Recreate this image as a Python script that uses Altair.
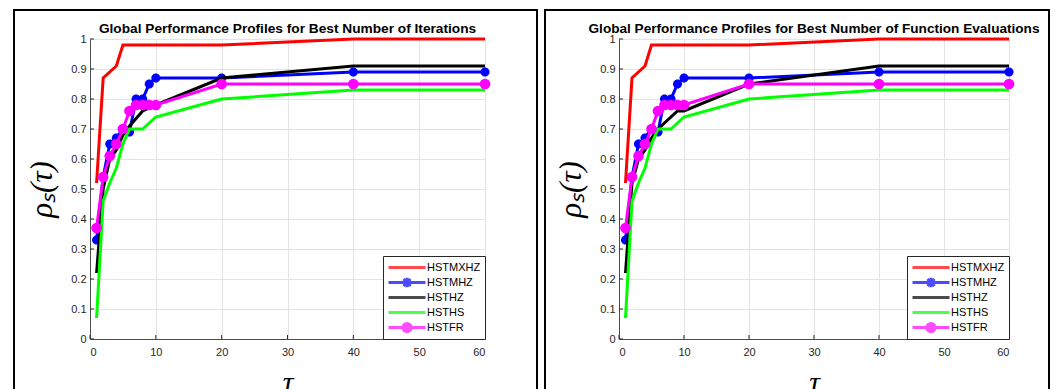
import altair as alt
import pandas as pd

solvers = ["HSTMXHZ", "HSTMHZ", "HSTHZ", "HSTHS", "HSTFR"]
solver_colors = ["#ff0000", "#0000ff", "#000000", "#00ff00", "#ff00ff"]

X_TICKS = [0, 10, 20, 30, 40, 50, 60]
Y_TICKS = [0, 0.1, 0.2, 0.3, 0.4, 0.5, 0.6, 0.7, 0.8, 0.9, 1]

# ---------------- Iterations ----------------
it_mxhz_tau = [1, 2, 4, 5, 20, 40, 60]
it_mxhz_rho = [0.52, 0.87, 0.91, 0.98, 0.98, 1.0, 1.0]
it_mhz_tau = [1, 2, 3, 4, 5, 6, 7, 8, 9, 10, 20, 40, 60]
it_mhz_rho = [0.33, 0.54, 0.65, 0.67, 0.70, 0.69, 0.80, 0.80, 0.85, 0.87, 0.87, 0.89, 0.89]
it_hz_tau = [1, 2, 3, 4, 5, 6, 8, 10, 20, 40, 60]
it_hz_rho = [0.22, 0.50, 0.60, 0.63, 0.68, 0.71, 0.76, 0.78, 0.87, 0.91, 0.91]
it_hs_tau = [1, 2, 3, 4, 5, 6, 8, 10, 20, 40, 60]
it_hs_rho = [0.07, 0.46, 0.52, 0.57, 0.65, 0.70, 0.70, 0.74, 0.80, 0.83, 0.83]
it_fr_tau = [1, 2, 3, 4, 5, 6, 7, 8, 9, 10, 20, 40, 60]
it_fr_rho = [0.37, 0.54, 0.61, 0.65, 0.70, 0.76, 0.78, 0.78, 0.78, 0.78, 0.85, 0.85, 0.85]

# ---------------- Function evaluations ----------------
fe_mxhz_tau = [1, 2, 4, 5, 20, 40, 60]
fe_mxhz_rho = [0.52, 0.87, 0.91, 0.98, 0.98, 1.0, 1.0]
fe_mhz_tau = [1, 2, 3, 4, 5, 6, 7, 8, 9, 10, 20, 40, 60]
fe_mhz_rho = [0.33, 0.54, 0.65, 0.67, 0.70, 0.69, 0.80, 0.80, 0.85, 0.87, 0.87, 0.89, 0.89]
fe_hz_tau = [1, 2, 3, 4, 5, 6, 9, 10, 20, 40, 60]
fe_hz_rho = [0.22, 0.52, 0.60, 0.63, 0.67, 0.70, 0.76, 0.76, 0.85, 0.91, 0.91]
fe_hs_tau = [1, 2, 3, 4, 5, 6, 8, 10, 20, 40, 60]
fe_hs_rho = [0.07, 0.46, 0.52, 0.57, 0.65, 0.70, 0.70, 0.74, 0.80, 0.83, 0.83]
fe_fr_tau = [1, 2, 3, 4, 5, 6, 7, 8, 9, 10, 20, 40, 60]
fe_fr_rho = [0.37, 0.54, 0.61, 0.65, 0.70, 0.76, 0.78, 0.78, 0.78, 0.78, 0.85, 0.85, 0.85]

iter_series = [(it_mxhz_tau, it_mxhz_rho), (it_mhz_tau, it_mhz_rho), (it_hz_tau, it_hz_rho),
               (it_hs_tau, it_hs_rho), (it_fr_tau, it_fr_rho)]
fev_series = [(fe_mxhz_tau, fe_mxhz_rho), (fe_mhz_tau, fe_mhz_rho), (fe_hz_tau, fe_hz_rho),
              (fe_hs_tau, fe_hs_rho), (fe_fr_tau, fe_fr_rho)]


def long_table(series):
    rows = []
    for name, (taus, rhos) in zip(solvers, series):
        for t, r in zip(taus, rhos):
            rows.append({"tau": t, "rho": r, "solver": name})
    return pd.DataFrame(rows)


def circ(r):
    return f"M{r},0A{r},{r} 0 1,1 {-r},0A{r},{r} 0 1,1 {r},0"


LEG_LINE = "M-1,0H1"
LEG_CIRCLE = LEG_LINE + circ(0.22) + circ(0.14) + circ(0.06)
LEG_STAR = LEG_LINE + "M-0.26,0H0.26M0,-0.26V0.26M-0.19,-0.19L0.19,0.19M-0.19,0.19L0.19,-0.19" + circ(0.12)
legend_shapes = [LEG_LINE, LEG_STAR, LEG_LINE, LEG_LINE, LEG_CIRCLE]
STAR_MARK = "M-1,0H1M0,-1V1M-0.7,-0.7L0.7,0.7M-0.7,0.7L0.7,-0.7"

SANS = "Liberation Sans"
SERIF = "Liberation Serif"
PLOT_H = 300


def panel(series, title, title_size, w, fx1, fx2):
    df = long_table(series)
    xs = alt.Scale(domain=[0, 60], nice=False, zero=False)
    ys = alt.Scale(domain=[0, 1], nice=False)
    xax = alt.Axis(values=X_TICKS, title="τ", grid=True, ticks=False, labelPadding=7,
                   titleFont=SERIF, titleFontSize=30, titleFontStyle="italic",
                   titleFontWeight="normal", titleColor="black", titlePadding=10)
    yax = alt.Axis(values=Y_TICKS, format="~g", title="ρₛ(τ)", grid=True, ticks=False,
                   labelPadding=4, titleFont=SERIF, titleFontSize=31, titleFontStyle="italic",
                   titleFontWeight="normal", titleColor="black", titlePadding=12)
    X = alt.X("tau:Q", scale=xs, axis=xax)
    Y = alt.Y("rho:Q", scale=ys, axis=yax)

    frame = alt.Chart(pd.DataFrame({"f": [0]})).mark_rect(
        fillOpacity=0, stroke="black", strokeWidth=2
    ).encode(x=alt.value(fx1), x2=alt.value(fx2), y=alt.value(-29), y2=alt.value(381))

    ytk = alt.Chart(pd.DataFrame({"rho": Y_TICKS})).mark_rule(color="#262626", strokeWidth=1).encode(
        y=Y, x=alt.value(0), x2=alt.value(4))
    xtk = alt.Chart(pd.DataFrame({"tau": X_TICKS})).mark_rule(color="#262626", strokeWidth=1).encode(
        x=X, y=alt.value(PLOT_H), y2=alt.value(PLOT_H - 4))

    base = alt.Chart(df)
    layers = [frame, ytk, xtk]
    for name, col in zip(solvers, solver_colors):
        sub = base.transform_filter(alt.datum.solver == name)
        layers.append(sub.mark_line(color=col, strokeWidth=3).encode(x=X, y=Y, order="tau:Q"))
        if name == "HSTMHZ":
            layers.append(sub.mark_point(shape=STAR_MARK, size=81, strokeWidth=3, color=col,
                                         filled=False, opacity=1).encode(x=X, y=Y))
        if name == "HSTFR":
            layers.append(sub.mark_circle(size=115, color=col, opacity=1).encode(x=X, y=Y))

    leg = alt.Legend(title=None, orient="bottom-right", offset=0, padding=4,
                     symbolSize=1369, symbolStrokeWidth=3, clipHeight=15,
                     labelFont=SANS, labelFontSize=11, labelColor="black", labelOffset=0,
                     strokeColor="#262626", fillColor="white", rowPadding=0, labelLimit=300)
    carrier = base.mark_point(size=0, strokeWidth=3, filled=False).encode(
        x=X, y=Y,
        color=alt.Color("solver:N", scale=alt.Scale(domain=solvers, range=solver_colors), legend=leg),
        shape=alt.Shape("solver:N", scale=alt.Scale(domain=solvers, range=legend_shapes), legend=leg),
    )
    layers.append(carrier)

    return alt.layer(*layers).properties(
        width=w, height=PLOT_H,
        title=alt.TitleParams(text=title, font=SANS, fontSize=title_size, fontWeight="bold",
                              color="black", anchor="middle", frame="group", offset=-27),
    )


p1 = panel(iter_series, "Global Performance Profiles for Best Number of Iterations", 13.7, 395, -76, 447)
p2 = panel(fev_series, "Global Performance Profiles for Best Number of Function Evaluations", 13.6, 390, -74, 430)

chart = alt.hconcat(p1, p2, spacing=6).resolve_scale(
    color="independent", shape="independent"
).resolve_legend(
    color="independent", shape="independent"
).properties(
    padding={"left": 5, "top": 1, "right": 0, "bottom": 0}
).configure_view(stroke=None).configure_axis(
    labelFont=SANS, labelFontSize=11, labelColor="#262626",
    domainColor="#4d4d4d", domainWidth=1, gridColor="#e3e3e3", gridWidth=1,
)

chart.save("out.html", embed_options={"renderer": "svg", "actions": False})
